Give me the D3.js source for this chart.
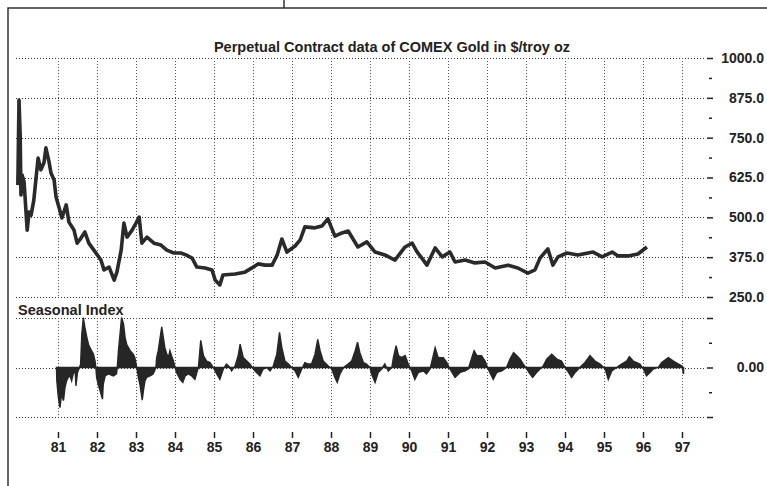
<!DOCTYPE html>
<html>
<head>
<meta charset="utf-8">
<script src="https://cdn.jsdelivr.net/npm/d3@7"></script>
<style>
  body { margin: 0; background: #fff; }
  svg { display: block; font-family: "Liberation Sans", Arial, sans-serif; }
</style>
</head>
<body>
<div id="chart"></div>
<script>
// Perpetual contract, COMEX gold ($/troy oz)
var priceYears = [1979.97, 1980.00, 1980.03, 1980.05, 1980.08, 1980.13, 1980.21, 1980.26, 1980.31, 1980.38,
  1980.44, 1980.49, 1980.56, 1980.64, 1980.69, 1980.77, 1980.82, 1980.90, 1980.95, 1981.03,
  1981.10, 1981.21, 1981.28, 1981.41, 1981.49, 1981.59, 1981.69, 1981.79, 1981.92, 1982.10,
  1982.18, 1982.31, 1982.44, 1982.51, 1982.62, 1982.69, 1982.77, 1982.90, 1983.00, 1983.08,
  1983.15, 1983.28, 1983.46, 1983.64, 1983.79, 1983.97, 1984.15, 1984.28, 1984.44, 1984.56,
  1984.77, 1984.95, 1985.03, 1985.15, 1985.23, 1985.54, 1985.79, 1986.05, 1986.13, 1986.31,
  1986.49, 1986.62, 1986.74, 1986.87, 1987.08, 1987.21, 1987.33, 1987.59, 1987.77, 1987.92,
  1988.10, 1988.28, 1988.44, 1988.69, 1988.92, 1989.13, 1989.38, 1989.64, 1989.90, 1990.08,
  1990.21, 1990.33, 1990.46, 1990.67, 1990.85, 1991.05, 1991.18, 1991.44, 1991.69, 1991.95,
  1992.21, 1992.54, 1992.79, 1993.05, 1993.23, 1993.36, 1993.56, 1993.69, 1993.82, 1994.05,
  1994.33, 1994.72, 1994.95, 1995.21, 1995.36, 1995.62, 1995.87, 1996.10];
var priceValues = [601, 868, 758, 570, 633, 611, 460, 517, 507, 554,
  627, 686, 649, 671, 718, 674, 639, 617, 564, 529,
  498, 539, 485, 460, 419, 435, 454, 419, 397, 366,
  335, 344, 303, 328, 397, 482, 438, 460, 482, 501,
  419, 438, 419, 413, 397, 388, 388, 382, 372, 344,
  341, 335, 303, 288, 319, 322, 328, 347, 354, 350,
  350, 382, 432, 391, 410, 429, 470, 467, 473, 495,
  441, 451, 457, 407, 423, 391, 382, 366, 407, 419,
  391, 372, 350, 404, 376, 391, 360, 366, 357, 360,
  341, 350, 341, 325, 335, 372, 401, 350, 376, 388,
  382, 391, 376, 391, 379, 379, 385, 407];

// Seasonal index (unitless, 0 = centre line)
var seasonYears = [1980.96, 1980.97, 1981.01, 1981.05, 1981.09, 1981.14, 1981.18, 1981.22, 1981.26, 1981.31,
  1981.35, 1981.39, 1981.44, 1981.46, 1981.50, 1981.55, 1981.58, 1981.61, 1981.65, 1981.69,
  1981.74, 1981.78, 1981.82, 1981.86, 1981.91, 1981.95, 1981.97, 1981.99, 1982.03, 1982.08,
  1982.14, 1982.16, 1982.21, 1982.29, 1982.42, 1982.50, 1982.52, 1982.55, 1982.59, 1982.63,
  1982.68, 1982.72, 1982.76, 1982.85, 1982.93, 1982.97, 1983.02, 1983.06, 1983.10, 1983.16,
  1983.19, 1983.23, 1983.27, 1983.36, 1983.44, 1983.51, 1983.53, 1983.57, 1983.62, 1983.66,
  1983.70, 1983.74, 1983.79, 1983.83, 1983.87, 1983.91, 1983.96, 1984.00, 1984.04, 1984.13,
  1984.20, 1984.26, 1984.34, 1984.43, 1984.51, 1984.56, 1984.60, 1984.66, 1984.73, 1984.81,
  1984.90, 1984.98, 1985.07, 1985.15, 1985.24, 1985.32, 1985.41, 1985.45, 1985.54, 1985.62,
  1985.67, 1985.75, 1985.84, 1985.92, 1986.01, 1986.09, 1986.18, 1986.26, 1986.35, 1986.44,
  1986.52, 1986.61, 1986.68, 1986.74, 1986.82, 1986.91, 1986.99, 1987.08, 1987.16, 1987.25,
  1987.33, 1987.42, 1987.50, 1987.59, 1987.66, 1987.72, 1987.80, 1987.93, 1988.02, 1988.10,
  1988.16, 1988.23, 1988.32, 1988.44, 1988.53, 1988.62, 1988.68, 1988.74, 1988.83, 1988.91,
  1989.00, 1989.04, 1989.13, 1989.21, 1989.30, 1989.38, 1989.47, 1989.56, 1989.60, 1989.67,
  1989.73, 1989.81, 1989.90, 1989.98, 1990.07, 1990.15, 1990.24, 1990.37, 1990.45, 1990.54,
  1990.61, 1990.67, 1990.75, 1990.88, 1990.97, 1991.05, 1991.18, 1991.31, 1991.44, 1991.52,
  1991.61, 1991.67, 1991.74, 1991.86, 1991.95, 1992.03, 1992.16, 1992.25, 1992.38, 1992.50,
  1992.59, 1992.68, 1992.76, 1992.85, 1992.93, 1993.02, 1993.10, 1993.17, 1993.27, 1993.36,
  1993.44, 1993.53, 1993.66, 1993.79, 1993.91, 1994.00, 1994.09, 1994.17, 1994.26, 1994.38,
  1994.51, 1994.64, 1994.77, 1994.90, 1995.03, 1995.11, 1995.20, 1995.32, 1995.45, 1995.58,
  1995.65, 1995.75, 1995.92, 1996.01, 1996.09, 1996.18, 1996.26, 1996.39, 1996.48, 1996.65,
  1996.78, 1996.91, 1997.00, 1997.04];
var seasonValues = [0, -0.27, -0.61, -0.81, -0.54, -0.67, -0.40, -0.27, -0.20, -0.17,
  -0.27, -0.13, -0.07, -0.37, -0.10, 0, 0.07, 0.67, 1.01, 0.81,
  0.61, 0.47, 0.40, 0.34, 0.27, 0.13, 0, -0.20, -0.34, -0.47,
  -0.64, -0.34, -0.17, -0.13, -0.17, -0.13, 0, 0.34, 0.67, 1.01,
  0.88, 0.61, 0.47, 0.34, 0.27, 0.20, 0, -0.20, -0.34, -0.66,
  -0.47, -0.27, -0.20, -0.17, -0.13, 0, 0.20, 0.34, 0.61, 0.82,
  0.61, 0.40, 0.27, 0.20, 0.34, 0.24, 0.13, 0, -0.10, -0.24,
  -0.30, -0.17, -0.13, -0.17, -0.24, -0.10, 0, 0.55, 0.24, 0.13,
  0.10, 0, -0.13, -0.24, -0.03, 0.07, 0, -0.07, 0.03, 0.24,
  0.47, 0.20, 0.13, 0.07, -0.03, -0.10, -0.17, -0.03, 0, -0.07,
  0.03, 0.27, 0.71, 0.40, 0.13, 0.07, 0, -0.07, -0.20, -0.03,
  0.10, 0.07, 0.07, 0.27, 0.57, 0.34, 0.13, 0.03, -0.03, -0.20,
  -0.30, -0.13, 0, 0.07, 0.13, 0.34, 0.51, 0.30, 0.10, 0.07,
  0, -0.13, -0.30, -0.10, -0.03, 0.07, -0.07, 0, 0.20, 0.44,
  0.24, 0.20, 0.24, 0.07, -0.07, -0.24, -0.10, -0.07, -0.13, -0.03,
  0.20, 0.40, 0.20, 0.20, 0.10, -0.03, -0.20, -0.10, -0.07, -0.03,
  0.20, 0.34, 0.24, 0.24, 0.13, -0.03, -0.24, -0.10, -0.07, 0,
  0.17, 0.30, 0.24, 0.17, 0.07, -0.03, -0.13, -0.20, -0.10, -0.03,
  0.03, 0.17, 0.27, 0.17, 0.13, 0, -0.10, -0.20, -0.10, 0,
  0.10, 0.24, 0.13, 0.07, -0.03, -0.24, -0.07, 0, 0.07, 0.13,
  0.22, 0.13, 0.07, -0.03, -0.17, -0.10, -0.03, 0, 0.10, 0.20,
  0.13, 0.07, 0.03, -0.13];

var yearTicks = [1981, 1982, 1983, 1984, 1985, 1986, 1987, 1988, 1989, 1990, 1991, 1992, 1993, 1994, 1995, 1996, 1997];
var yearLabels = ["81", "82", "83", "84", "85", "86", "87", "88", "89", "90", "91", "92", "93", "94", "95", "96", "97"];
var priceTicks = [1000, 875, 750, 625, 500, 375, 250];
var priceMinor = [937.5, 812.5, 687.5, 562.5, 437.5, 312.5];
var seasonTicks = [-1, 0, 1];
var seasonMinor = [-0.5, 0.5];

var width = 767, height = 486;
var left = 16, right = 706;
var ink = "#222";

var svg = d3.select("#chart").append("svg")
  .attr("width", width)
  .attr("height", height);

var x = d3.scaleLinear().domain([1981, 1997]).range([58, 682]);
var y = d3.scaleLinear().domain([250, 1000]).range([297, 58]);
var ys = d3.scaleLinear().domain([-1, 1]).range([417, 318]);

// frame
svg.append("path")
  .attr("d", "M8," + height + "V8H" + width)
  .attr("fill", "none")
  .attr("stroke", "#333")
  .attr("stroke-width", 1.5);
svg.append("line")
  .attr("x1", 284).attr("x2", 284).attr("y1", 0).attr("y2", 8)
  .attr("stroke", "#333").attr("stroke-width", 1.5);

// grids
var grid = svg.append("g")
  .attr("stroke", "#333")
  .attr("stroke-width", 1)
  .attr("stroke-dasharray", "1,2");

grid.selectAll(".hp").data(priceTicks).enter().append("line")
  .attr("x1", left).attr("x2", right)
  .attr("y1", function (d) { return Math.round(y(d)) + 0.5; })
  .attr("y2", function (d) { return Math.round(y(d)) + 0.5; });

grid.selectAll(".hs").data(seasonTicks).enter().append("line")
  .attr("x1", left).attr("x2", right)
  .attr("y1", function (d) { return Math.round(ys(d)) + 0.5; })
  .attr("y2", function (d) { return Math.round(ys(d)) + 0.5; });

grid.selectAll(".vp").data(yearTicks).enter().append("line")
  .attr("x1", function (d) { return Math.round(x(d)) + 0.5; })
  .attr("x2", function (d) { return Math.round(x(d)) + 0.5; })
  .attr("y1", y(1000)).attr("y2", y(250))
  .attr("stroke", "#555");

grid.selectAll(".vs").data(yearTicks).enter().append("line")
  .attr("x1", function (d) { return Math.round(x(d)) + 0.5; })
  .attr("x2", function (d) { return Math.round(x(d)) + 0.5; })
  .attr("y1", ys(1)).attr("y2", ys(-1))
  .attr("stroke", "#555");

// price line
var prices = priceYears.map(function (t, i) { return { t: t, v: priceValues[i] }; });
svg.append("path")
  .datum(prices)
  .attr("d", d3.line().x(function (d) { return x(d.t); }).y(function (d) { return y(d.v); }))
  .attr("fill", "none")
  .attr("stroke", "#2a2a2a")
  .attr("stroke-width", 3.6)
  .attr("stroke-linejoin", "round");

// seasonal index
var season = seasonYears.map(function (t, i) { return { t: t, v: seasonValues[i] }; });
svg.append("path")
  .datum(season)
  .attr("d", d3.area()
    .x(function (d) { return x(d.t); })
    .y0(ys(0))
    .y1(function (d) { return ys(d.v); }))
  .attr("fill", "#262626")
  .attr("stroke", "#262626")
  .attr("stroke-width", 1.4);

// right axes
function styleAxis(g) {
  g.select(".domain").remove();
  g.selectAll("line").attr("stroke", ink).attr("stroke-width", 1.5);
  g.selectAll("text")
    .attr("x", 57)
    .attr("text-anchor", "end")
    .attr("fill", ink)
    .style("font-size", "14px")
    .style("font-weight", "bold");
}

svg.append("g")
  .attr("transform", "translate(707,0)")
  .call(d3.axisRight(y).tickValues(priceTicks).tickSize(6).tickFormat(d3.format(".1f")))
  .call(styleAxis);
svg.append("g")
  .attr("transform", "translate(709,0)")
  .call(d3.axisRight(y).tickValues(priceMinor).tickSize(3).tickFormat(""))
  .call(styleAxis);

svg.append("g")
  .attr("transform", "translate(707,0)")
  .call(d3.axisRight(ys).tickValues(seasonTicks).tickSize(6)
    .tickFormat(function (d) { return d === 0 ? "0.00" : ""; }))
  .call(styleAxis);
svg.append("g")
  .attr("transform", "translate(709,0)")
  .call(d3.axisRight(ys).tickValues(seasonMinor).tickSize(3).tickFormat(""))
  .call(styleAxis);

// year axis
var xAxis = svg.append("g")
  .attr("transform", "translate(0,432)")
  .call(d3.axisBottom(x).tickValues(yearTicks).tickSize(6).tickPadding(4)
    .tickFormat(function (d, i) { return yearLabels[i]; }));
xAxis.select(".domain").remove();
xAxis.selectAll("line").attr("stroke", ink).attr("stroke-width", 1.5);
xAxis.selectAll("text")
  .attr("fill", ink)
  .style("font-size", "14px")
  .style("font-weight", "bold");

// titles
svg.append("text")
  .attr("x", 392)
  .attr("y", 52)
  .attr("text-anchor", "middle")
  .attr("fill", ink)
  .style("font-size", "14.5px")
  .style("font-weight", "bold")
  .text("Perpetual Contract data of COMEX Gold in $/troy oz");

svg.append("text")
  .attr("x", 18)
  .attr("y", 315)
  .attr("fill", ink)
  .style("font-size", "14.5px")
  .style("font-weight", "bold")
  .text("Seasonal Index");
</script>
</body>
</html>
